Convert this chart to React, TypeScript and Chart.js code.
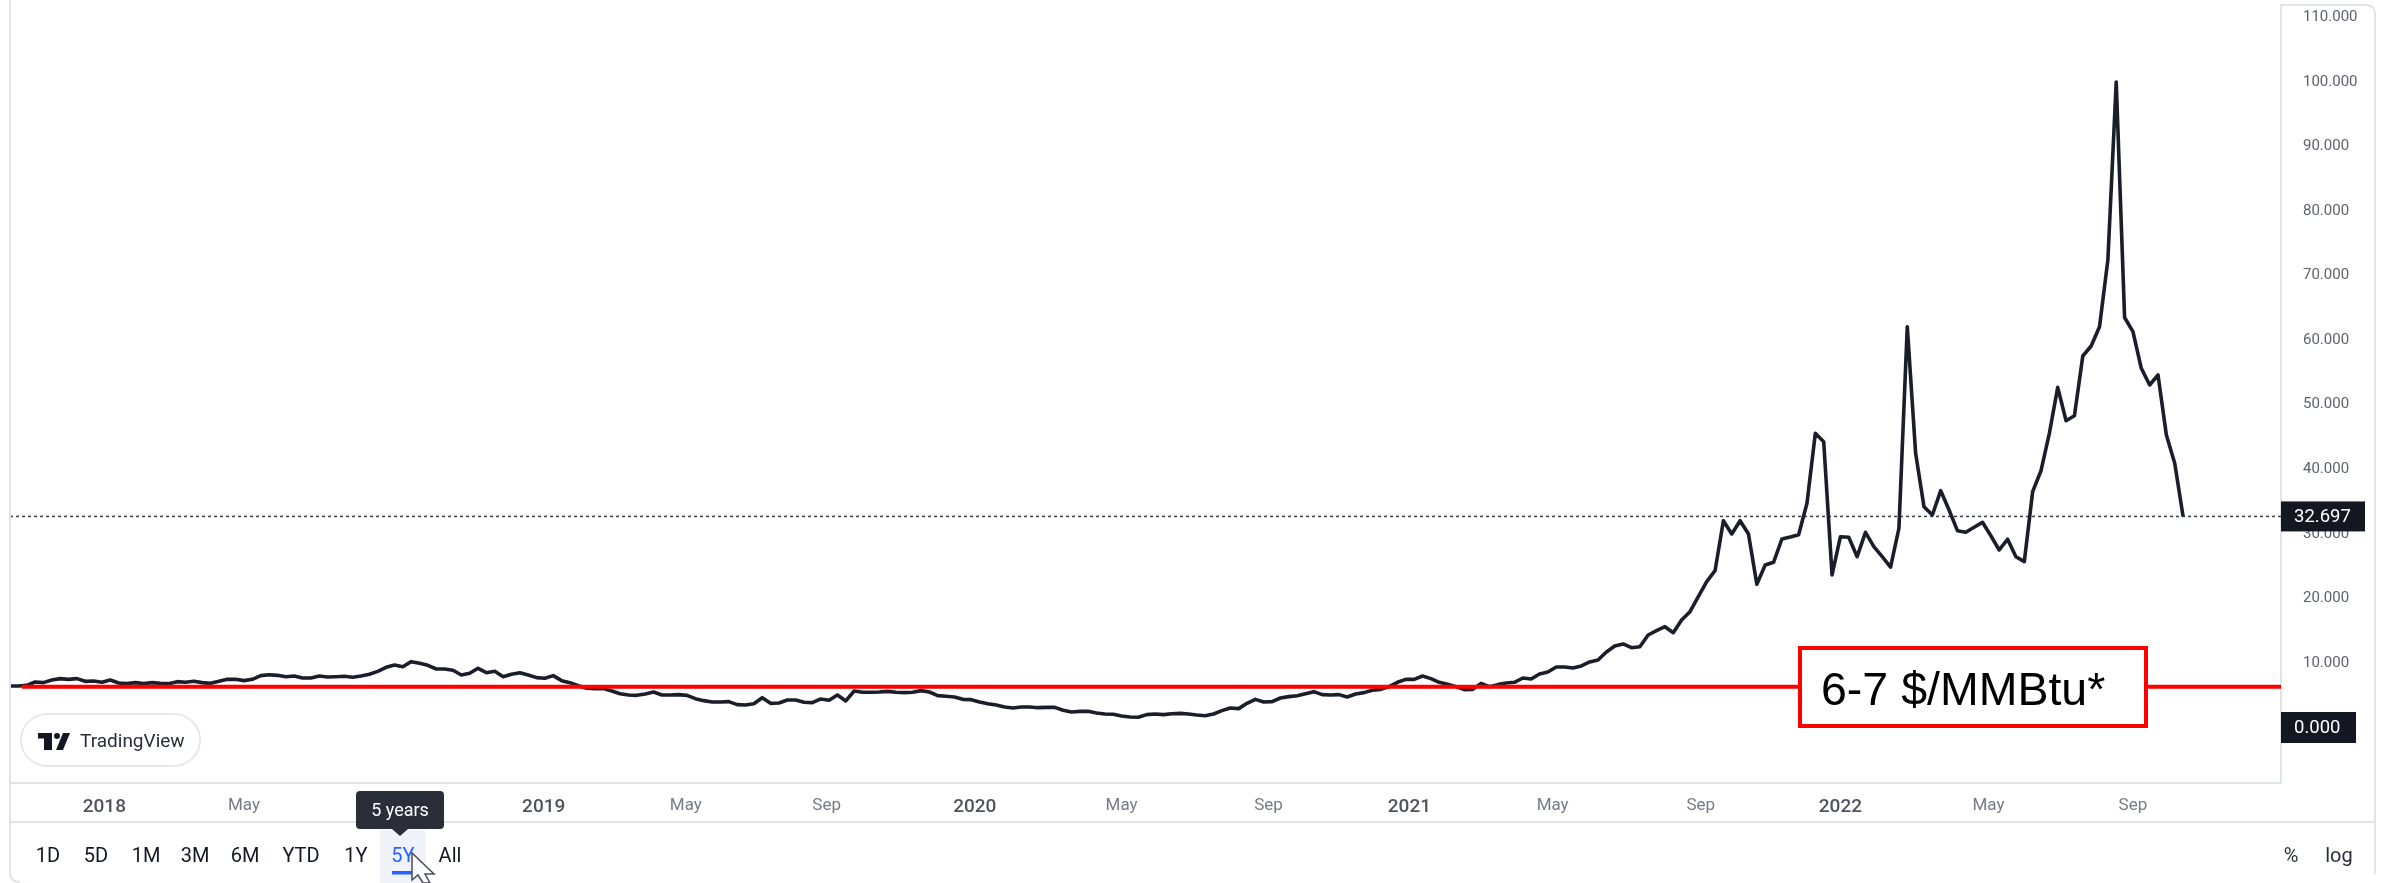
import React, { useEffect, useRef } from "react";
import { Chart, registerables } from "chart.js";

Chart.register(...registerables);

// Weekly price, first date below
const firstWeek = "2017-10-13";
const axisEnd = "2022-12-28";
const redLineStart = "2017-10-23";
const pricesA = [6.43,6.43,6.53,7.05,6.95,7.36,7.57,7.46,7.57,7.15,7.20,7.00,7.36,6.89,6.79,6.95,6.79,6.95,6.84,6.79,7.10,7.00,7.15,6.95,6.84,7.15,7.46,7.46,7.26,7.46,8.03,8.18,8.08,7.87,7.98,7.67,7.67,7.98,7.82,7.87,7.93,7.77,7.98,8.24,8.70,9.32,9.68,9.42,10.20,9.94,9.63,9.06,9.06,8.86,8.13,8.39,9.17,8.49,8.70,7.87,8.24,8.49];
const pricesB = [8.13,7.72,7.62,8.03,7.26,6.95,6.48,6.07,6.02,6.02,5.65,5.24,5.03,4.98,5.19,5.50,5.03,5.03,5.09,4.98,4.47,4.16,3.95,3.95,4.00,3.54,3.49,3.69,4.62,3.74,3.80,4.26,4.26,3.90,3.85,4.42,4.21,5.03,4.11,5.65,5.45,5.45,5.50,5.60,5.45,5.40,5.45,5.71,5.50,4.93,4.83,4.73,4.36,4.31,3.95,3.69,3.49,3.18];
const pricesC = [3.02,3.18,3.18,3.07,3.12,3.12,2.66,2.40,2.50,2.50,2.25,2.09,2.04,1.78,1.63,1.58,1.99,2.09,1.99,2.14,2.19,2.09,1.94,1.83,2.09,2.61,3.02,2.92,3.74,4.36,3.95,4.00,4.57,4.78,4.93,5.24,5.55,5.09,5.03,5.09,4.73,5.19,5.40,5.76,5.91,6.33,7.00,7.46,7.46,7.98,7.57,7.00,6.69,6.33,5.86,5.91,6.84,6.33,6.64,6.89,7.00];
const pricesD = [7.67,7.51,8.29,8.60,9.37,9.37,9.22,9.53,10.15,10.46,11.70,12.63,12.94,12.36,12.52,14.33,15.00,15.62,14.69,16.65,17.94,20.26,22.59,24.29,32.04,29.98,32.04,29.98,22.18,25.17,25.59,29.20,29.51,29.87,34.73,45.58,44.28,23.63,29.56,29.47,26.46,30.24,28.01,26.46,24.86,30.86,62.09,42.48,34.21,32.92,36.69,33.70,30.49,30.24,31.01,31.79,29.71,27.50,29.16,26.46,25.69,36.53,39.78,45.58,52.70,47.53,48.30,57.55,59.10,62.09,72.43,100.0,63.52,61.32,55.65,53.06,54.61,45.31,40.93,32.697];
const prices = [...pricesA, ...pricesB, ...pricesC, ...pricesD];

const lastPrice = 32.697;
const referenceLevel = 6.32;
const referenceLabel = "6-7 $/MMBtu*";

const xTickDates = ["2017-12-31","2018-04-27","2019-01-03","2019-05-02","2019-08-28","2019-12-30","2020-05-01","2020-09-01","2020-12-28","2021-04-27","2021-08-29","2021-12-24","2022-04-27","2022-08-26"];
const xTickLabels = ["2018","May","2019","May","Sep","2020","May","Sep","2021","May","Sep","2022","May","Sep"];
const yTicks = [0,10,20,30,40,50,60,70,80,90,100,110];
const rangeButtons = ["1D","5D","1M","3M","6M","YTD","1Y","5Y","All"];
const buttonCentres = [48,96,146,195,245,301,356,403,450];

const WEEK = 7 * 24 * 3600 * 1000;
const toMs = (d: string) => Date.parse(d + "T00:00:00Z");
const INK = "#131722";
const LINE = "#e0e3eb";
const FONT = "Roboto, sans-serif";

const roundRect = (ctx: CanvasRenderingContext2D, x: number, y: number, w: number, h: number, r: number) => {
  ctx.beginPath();
  ctx.roundRect(x, y, w, h, r);
};

const chromePlugin = {
  id: "chrome",
  afterDraw(chart: any) {
    const ctx: CanvasRenderingContext2D = chart.ctx;
    const yS = chart.scales.y;
    const area = chart.chartArea;
    ctx.save();

    // frame
    ctx.strokeStyle = LINE;
    ctx.lineWidth = 2;
    ctx.beginPath();
    ctx.moveTo(area.left, 0);
    ctx.lineTo(area.left, 872);
    ctx.quadraticCurveTo(area.left, 882, area.left + 10, 882);
    ctx.moveTo(area.left, 822);
    ctx.lineTo(2375, 822);
    ctx.moveTo(area.right, area.top);
    ctx.lineTo(2366, area.top);
    ctx.quadraticCurveTo(2375, area.top, 2375, area.top + 9);
    ctx.lineTo(2375, 874);
    ctx.stroke();

    // reference box
    ctx.fillStyle = "#fff";
    ctx.fillRect(1799, 647, 348, 80);
    ctx.strokeStyle = "#ff0000";
    ctx.lineWidth = 4;
    ctx.strokeRect(1800, 648, 346, 78);
    ctx.fillStyle = "#000";
    ctx.font = "46.5px 'Liberation Sans', Arial, sans-serif";
    ctx.textAlign = "left";
    ctx.textBaseline = "alphabetic";
    ctx.fillText(referenceLabel, 1821, 705);

    // price tags
    const tag = (value: number, w: number, h: number) => {
      const y = yS.getPixelForValue(value);
      ctx.fillStyle = INK;
      ctx.fillRect(area.right, y - h / 2, w, h);
      ctx.fillStyle = "#fff";
      ctx.font = `18.5px ${FONT}`;
      ctx.textAlign = "left";
      ctx.textBaseline = "middle";
      ctx.fillText(value.toFixed(3), area.right + 13, y + 1);
    };
    tag(lastPrice, 84, 30);
    tag(0, 75, 31);

    // TradingView badge
    ctx.fillStyle = "#fff";
    ctx.strokeStyle = "#e6e8ee";
    ctx.lineWidth = 2;
    roundRect(ctx, 21, 714, 179, 52, 26);
    ctx.fill();
    ctx.stroke();
    ctx.fillStyle = INK;
    ctx.fillRect(38, 733, 14, 5.5);
    ctx.fillRect(44, 733, 8, 17);
    ctx.beginPath();
    ctx.arc(57, 736, 3, 0, Math.PI * 2);
    ctx.fill();
    ctx.beginPath();
    ctx.moveTo(63, 733);
    ctx.lineTo(70, 733);
    ctx.lineTo(63, 750);
    ctx.lineTo(56, 750);
    ctx.closePath();
    ctx.fill();
    ctx.font = `400 19px ${FONT}`;
    ctx.textAlign = "left";
    ctx.textBaseline = "middle";
    ctx.fillStyle = "#2a2e39";
    ctx.fillText("TradingView", 80, 742);

    // selected range highlight
    ctx.fillStyle = "#f0f3fa";
    ctx.fillRect(380, 830, 46, 53);

    // range buttons
    ctx.font = `20px ${FONT}`;
    ctx.textAlign = "center";
    rangeButtons.forEach((b, i) => {
      ctx.fillStyle = b === "5Y" ? "#2962ff" : INK;
      ctx.fillText(b, buttonCentres[i], 857);
    });
    ctx.fillStyle = "#2962ff";
    ctx.fillRect(392, 871, 20, 3.5);

    ctx.fillStyle = "#2a2e39";
    ctx.font = `20px ${FONT}`;
    ctx.fillText("%", 2291, 857);
    ctx.fillText("log", 2339, 857);

    // tooltip
    ctx.fillStyle = "#2a2e39";
    roundRect(ctx, 356, 791, 88, 38, 4);
    ctx.fill();
    ctx.beginPath();
    ctx.moveTo(392, 829);
    ctx.lineTo(400, 836);
    ctx.lineTo(408, 829);
    ctx.closePath();
    ctx.fill();
    ctx.fillStyle = "#fff";
    ctx.font = `18px ${FONT}`;
    ctx.fillText("5 years", 400, 811);

    // mouse pointer
    ctx.fillStyle = "#fff";
    ctx.strokeStyle = "#4a4d57";
    ctx.lineWidth = 1.5;
    ctx.beginPath();
    ctx.moveTo(412, 853);
    ctx.lineTo(412, 880);
    ctx.lineTo(418, 875);
    ctx.lineTo(423, 883);
    ctx.lineTo(430, 883);
    ctx.lineTo(425, 874);
    ctx.lineTo(434, 874);
    ctx.closePath();
    ctx.fill();
    ctx.stroke();

    ctx.restore();
  },
};

export default function App() {
  const ref = useRef<HTMLCanvasElement | null>(null);

  useEffect(() => {
    if (!ref.current) return;
    const start = toMs(firstWeek);
    const end = toMs(axisEnd);
    const tickTimes = xTickDates.map(toMs);
    const priceData = prices.map((y, i) => ({ x: start + i * WEEK, y }));

    const chart = new Chart(ref.current, {
      type: "line",
      plugins: [chromePlugin],
      data: {
        datasets: [
          {
            label: "Reference",
            data: [
              { x: toMs(redLineStart), y: referenceLevel },
              { x: end, y: referenceLevel },
            ],
            borderColor: "#ff0000",
            borderWidth: 4,
            pointRadius: 0,
            order: 0,
          },
          {
            label: "Price",
            data: priceData,
            borderColor: "#1a1e2a",
            borderWidth: 3.6,
            borderJoinStyle: "round",
            pointRadius: 0,
            tension: 0,
            order: 1,
          },
          {
            label: "Last",
            data: [
              { x: start, y: lastPrice },
              { x: end, y: lastPrice },
            ],
            borderColor: "#3a3e4a",
            borderWidth: 1.5,
            borderDash: [3, 3],
            pointRadius: 0,
            order: 2,
          },
        ],
      } as any,
      options: {
        animation: false,
        responsive: false,
        devicePixelRatio: 1,
        layout: { padding: { left: 10, top: 5, right: 0, bottom: 0 } },
        plugins: { legend: { display: false }, tooltip: { enabled: false } },
        scales: {
          x: {
            type: "linear",
            min: start,
            max: end,
            grid: { display: false },
            border: { color: LINE, width: 2 },
            afterBuildTicks: (axis: any) => {
              axis.ticks = tickTimes.map((value) => ({ value }));
            },
            afterFit: (axis: any) => {
              axis.height = 100;
              axis.paddingLeft = 0;
              axis.paddingRight = 0;
            },
            ticks: {
              autoSkip: false,
              maxRotation: 0,
              padding: 5,
              callback: (v: any) => xTickLabels[tickTimes.indexOf(v)] ?? "",
              color: (c: any) => (/^\d/.test(c.tick?.label ?? "") ? "#50535e" : "#787b86"),
              font: (c: any) =>
                /^\d/.test(c.tick?.label ?? "")
                  ? { family: FONT, size: 19, weight: "500" }
                  : { family: FONT, size: 17 },
            },
          },
          y: {
            type: "linear",
            position: "right",
            min: -8.6,
            max: 111.93,
            grid: { display: false },
            border: { color: LINE, width: 2 },
            afterBuildTicks: (axis: any) => {
              axis.ticks = yTicks.map((value) => ({ value }));
            },
            afterFit: (axis: any) => {
              axis.width = 108;
              axis.paddingTop = 0;
              axis.paddingBottom = 0;
            },
            ticks: {
              padding: 14,
              crossAlign: "near",
              color: "#5f626d",
              font: { family: FONT, size: 15 },
              callback: (v: any) => Number(v).toFixed(3),
            },
          },
        },
      } as any,
    });
    return () => chart.destroy();
  }, []);

  return (
    <>
      <style>{`html,body{margin:0;padding:0;background:#fff}`}</style>
      <canvas ref={ref} width={2389} height={883} style={{ display: "block" }} />
    </>
  );
}
